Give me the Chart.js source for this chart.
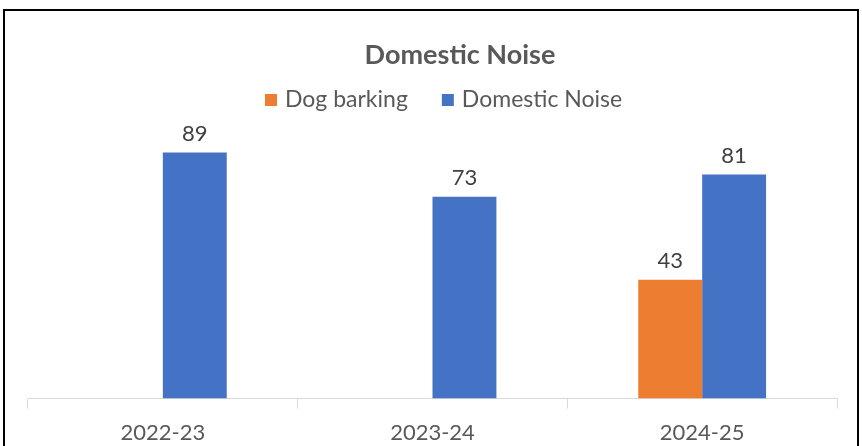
<!DOCTYPE html>
<html>
<head>
<meta charset="utf-8">
<script src="https://cdn.jsdelivr.net/npm/chart.js@4"></script>
<style>
  html, body { margin: 0; padding: 0; background: #fff; }
  #wrap { width: 862px; height: 446px; position: relative; }
</style>
</head>
<body>
<div id="wrap"><canvas id="mycanvas" width="862" height="446"></canvas></div>
<script>
var chartTitle = "Domestic Noise";
var years = ["2022-23", "2023-24", "2024-25"];
var dogBarking = [null, null, 43];
var domesticNoise = [89, 73, 81];

var textColor = "#595959";
var fontName = "Lato, 'Open Sans', sans-serif";

// title + legend drawn by hand so they sit where the excel one did
var headerPlugin = {
  id: "header",
  afterDraw: function(chart) {
    var c = chart.ctx;
    c.save();
    // frame round the chart
    c.strokeStyle = "#000";
    c.lineWidth = 2;
    c.strokeRect(4, 10, 854, 460);

    c.fillStyle = textColor;
    c.font = "bold 27px " + fontName;
    c.textAlign = "center";
    c.textBaseline = "middle";
    c.fillText(chartTitle, 460, 55);

    c.font = "23px " + fontName;
    c.textAlign = "left";
    var x = 265;
    chart.data.datasets.forEach(function(ds) {
      c.fillStyle = ds.backgroundColor;
      c.fillRect(x, 94, 12, 12);
      c.fillStyle = textColor;
      c.fillText(ds.label, x + 20, 100);
      x += 20 + c.measureText(ds.label).width + 34;
    });
    c.restore();
  }
};

// value labels above each bar
var valueLabels = {
  id: "valueLabels",
  afterDatasetsDraw: function(chart) {
    var c = chart.ctx;
    c.save();
    c.font = "22px " + fontName;
    c.fillStyle = "#404040";
    c.textAlign = "center";
    c.textBaseline = "bottom";
    chart.data.datasets.forEach(function(ds, i) {
      var meta = chart.getDatasetMeta(i);
      meta.data.forEach(function(bar, j) {
        if (ds.data[j] == null) return;
        c.fillText(ds.data[j], bar.x, bar.y - 8);
      });
    });
    c.restore();
  }
};

var ctx = document.getElementById("mycanvas");
var chart = new Chart(ctx, {
  type: "bar",
  data: {
    labels: years,
    datasets: [
      { label: "Dog barking", data: dogBarking, backgroundColor: "#ED7D31" },
      { label: "Domestic Noise", data: domesticNoise, backgroundColor: "#4472C4" }
    ]
  },
  options: {
    responsive: false,
    animation: false,
    devicePixelRatio: 1,
    layout: { padding: { top: 122, left: 28, right: 25, bottom: -11 } },
    plugins: {
      legend: { display: false },
      title: { display: false },
      tooltip: { enabled: false }
    },
    datasets: {
      bar: { categoryPercentage: 0.474, barPercentage: 1 }
    },
    scales: {
      x: {
        grid: { drawOnChartArea: false, drawTicks: true, tickLength: 10, color: "#d9d9d9", offset: true },
        border: { color: "#d9d9d9", width: 1 },
        ticks: { color: textColor, font: { family: fontName, size: 22 }, padding: 11 }
      },
      y: {
        display: false,
        min: 0,
        max: 100
      }
    }
  },
  plugins: [headerPlugin, valueLabels]
});
</script>
</body>
</html>
